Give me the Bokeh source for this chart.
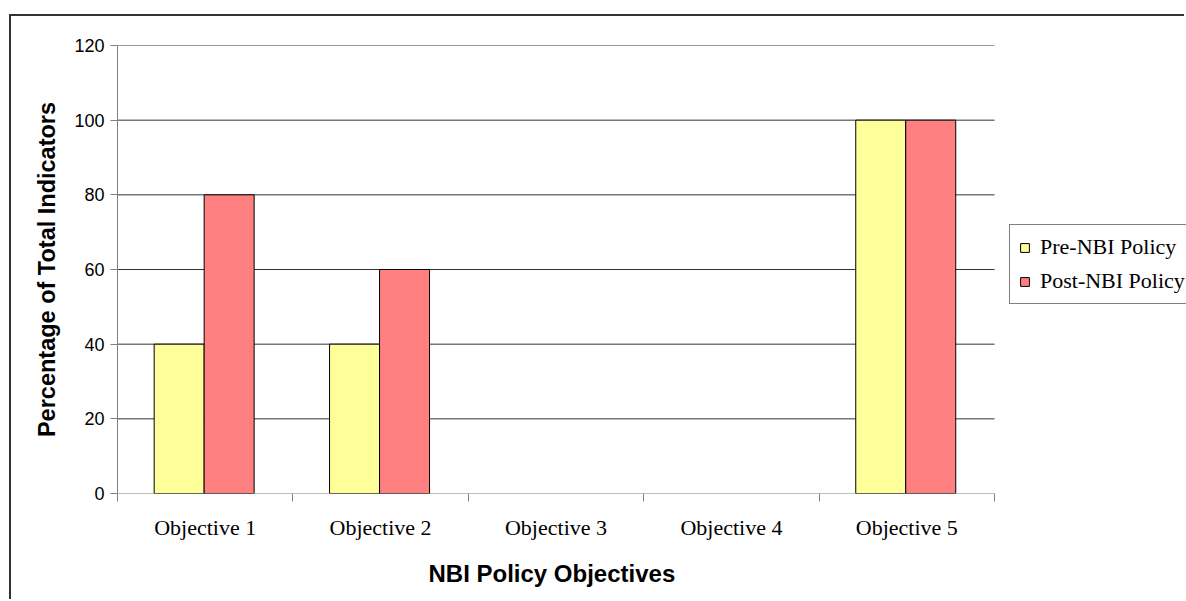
from bokeh.plotting import figure
from bokeh.models import FixedTicker, Legend, LegendItem, ColumnDataSource, Range1d, Title
from bokeh.embed import file_html
from bokeh.resources import INLINE

categories = ["Objective 1", "Objective 2", "Objective 3", "Objective 4", "Objective 5"]
pre_nbi = [40, 40, 0, 0, 100]
post_nbi = [80, 60, 0, 0, 100]
y_ticks = [0, 20, 40, 60, 80, 100, 120]

n = len(categories)
centers = [i + 0.5 for i in range(n)]
bw = 0.285

# plot area spans 877 px for the 5 categories; frame runs to the canvas edge (1069 px)
x_end = n * 1069.0 / 877.0

src = ColumnDataSource(dict(
    xpre=[c - bw / 2 - 0.006 for c in centers],
    xpost=[c + bw / 2 - 0.006 for c in centers],
    pre=pre_nbi,
    post=post_nbi,
    pre_la=[1.0 if v > 0 else 0.0 for v in pre_nbi],
    post_la=[1.0 if v > 0 else 0.0 for v in post_nbi],
))

p = figure(width=1175, height=585, output_backend="svg", toolbar_location=None,
           x_range=Range1d(0, x_end), y_range=Range1d(0, 120),
           min_border_left=106, min_border_right=0, min_border_top=29, min_border_bottom=108)
p.margin = (14, 0, 0, 9)
p.styles = {"border-left": "2px solid #333333", "border-top": "2px solid #333333"}
p.outline_line_color = None
p.background_fill_color = "white"
p.border_fill_color = "white"

# horizontal gridlines across the category area only
p.segment(x0=0, x1=n, y0=y_ticks[1:], y1=y_ticks[1:], line_color="#333333", line_width=1)
# category axis line
p.segment(x0=[0], x1=[n], y0=[0], y1=[0], line_color="#808080", line_width=1)

r1 = p.vbar(x="xpre", top="pre", width=bw, bottom=0, source=src,
            fill_color="#FFFF99", line_color="black", line_alpha="pre_la", line_width=1)
r2 = p.vbar(x="xpost", top="post", width=bw, bottom=0, source=src,
            fill_color="#FF8080", line_color="black", line_alpha="post_la", line_width=1)

# axes
p.xaxis.ticker = FixedTicker(ticks=centers, minor_ticks=list(range(n + 1)))
p.xaxis.major_label_overrides = {c: name for c, name in zip(centers, categories)}
p.xaxis.major_tick_out = 0
p.xaxis.major_tick_in = 0
p.xaxis.minor_tick_out = 8
p.xaxis.minor_tick_in = 0
p.xaxis.minor_tick_line_color = "#808080"
p.xaxis.axis_line_color = None
p.xaxis.major_label_text_font = "Liberation Serif"
p.xaxis.major_label_text_font_size = "22px"
p.xaxis.major_label_text_color = "black"
p.xaxis.major_label_standoff = 13

xt = Title(text="NBI Policy Objectives", align="left", offset=311,
           text_font="Liberation Sans", text_font_style="bold",
           text_font_size="24px", text_color="black", standoff=30)
p.add_layout(xt, "below")

p.yaxis.ticker = FixedTicker(ticks=y_ticks)
p.yaxis.major_tick_out = 7
p.yaxis.major_tick_in = 0
p.yaxis.minor_tick_line_color = None
p.yaxis.axis_line_color = "#808080"
p.yaxis.major_tick_line_color = "#808080"
p.yaxis.major_label_text_font = "Liberation Sans"
p.yaxis.major_label_text_font_size = "18px"
p.yaxis.major_label_text_color = "black"
p.yaxis.major_label_standoff = 6
p.yaxis.axis_label = "Percentage of Total Indicators"
p.yaxis.axis_label_text_font = "Liberation Sans"
p.yaxis.axis_label_text_font_style = "bold"
p.yaxis.axis_label_text_font_size = "23.5px"
p.yaxis.axis_label_standoff = 11
p.yaxis.axis_label_text_color = "black"

p.xgrid.grid_line_color = None
p.ygrid.grid_line_color = None

legend = Legend(items=[LegendItem(label="Pre-NBI Policy", renderers=[r1]),
                       LegendItem(label="Post-NBI Policy", renderers=[r2])],
                location=(892, 189))
legend.label_text_font = "Liberation Serif"
legend.label_text_font_size = "22px"
legend.label_text_color = "black"
legend.glyph_width = 11
legend.glyph_height = 11
legend.label_standoff = 10
legend.label_height = 24
legend.spacing = 8
legend.padding = 9
legend.margin = 0
legend.border_line_color = "black"
legend.border_line_width = 1
legend.background_fill_color = "white"
legend.background_fill_alpha = 1
p.add_layout(legend, "center")

open("out.html", "w").write(file_html(p, INLINE))
